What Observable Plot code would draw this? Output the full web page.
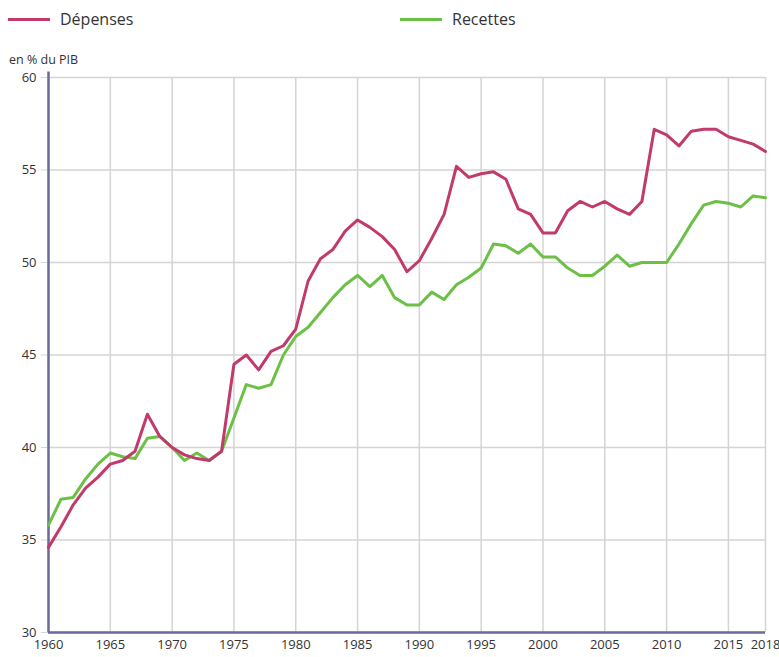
<!DOCTYPE html>
<html>
<head>
<meta charset="utf-8">
<script src="https://cdn.jsdelivr.net/npm/d3@7"></script>
<script src="https://cdn.jsdelivr.net/npm/@observablehq/plot@0.6"></script>
<style>
  body { margin: 0; background: #fff; font-family: "Open Sans", sans-serif; }
  #wrap { position: relative; width: 779px; height: 657px; }
  #chart { position: absolute; left: 0; top: 0; }
  .leg { position: absolute; top: 8px; font-size: 16px; color: #333; display: flex; align-items: center; }
  .sw { display: inline-block; width: 42px; height: 3px; margin-right: 10px; }
  #ylab { position: absolute; left: 9px; top: 51px; font-size: 12.5px; color: #333; }
</style>
</head>
<body>
<div id="wrap">
  <div id="chart"></div>
  <div class="leg" style="left:8px"><span class="sw" style="background:#c23a6c"></span>Dépenses</div>
  <div class="leg" style="left:400px"><span class="sw" style="background:#6cc045"></span>Recettes</div>
  <div id="ylab">en % du PIB</div>
</div>
<script>
const years = d3.range(1960, 2019);
const depenses = [34.6, 35.7, 36.9, 37.8, 38.4, 39.1, 39.3, 39.8, 41.8, 40.6,
  40.0, 39.6, 39.4, 39.3, 39.8, 44.5, 45.0, 44.2, 45.2, 45.5,
  46.4, 49.0, 50.2, 50.7, 51.7, 52.3, 51.9, 51.4, 50.7, 49.5,
  50.1, 51.3, 52.6, 55.2, 54.6, 54.8, 54.9, 54.5, 52.9, 52.6,
  51.6, 51.6, 52.8, 53.3, 53.0, 53.3, 52.9, 52.6, 53.3, 57.2,
  56.9, 56.3, 57.1, 57.2, 57.2, 56.8, 56.6, 56.4, 56.0];
const recettes = [35.8, 37.2, 37.3, 38.3, 39.1, 39.7, 39.5, 39.4, 40.5, 40.6,
  40.0, 39.3, 39.7, 39.3, 39.8, 41.6, 43.4, 43.2, 43.4, 45.0,
  46.0, 46.5, 47.3, 48.1, 48.8, 49.3, 48.7, 49.3, 48.1, 47.7,
  47.7, 48.4, 48.0, 48.8, 49.2, 49.7, 51.0, 50.9, 50.5, 51.0,
  50.3, 50.3, 49.7, 49.3, 49.3, 49.8, 50.4, 49.8, 50.0, 50.0,
  50.0, 51.0, 52.1, 53.1, 53.3, 53.2, 53.0, 53.6, 53.5];
const xTicks = [1960, 1965, 1970, 1975, 1980, 1985, 1990, 1995, 2000, 2005, 2010, 2015, 2018];
const yTicks = [30, 35, 40, 45, 50, 55, 60];

const dep = years.map((y, i) => ({year: y, value: depenses[i]}));
const rec = years.map((y, i) => ({year: y, value: recettes[i]}));

const chart = Plot.plot({
  width: 779,
  height: 657,
  marginLeft: 48,
  marginRight: 14,
  marginTop: 77,
  marginBottom: 25,
  style: {fontFamily: "Open Sans, sans-serif", fontSize: "13px", color: "#333", background: "#fff"},
  x: {domain: [1960, 2018], ticks: xTicks, tickFormat: d => String(d), label: null},
  y: {domain: [30, 60], ticks: yTicks, label: null},
  marks: [
    Plot.gridX(xTicks, {stroke: "#d4d4d4", strokeOpacity: 1, strokeWidth: 1.5}),
    Plot.gridY(yTicks, {stroke: "#d4d4d4", strokeOpacity: 1, strokeWidth: 1.5}),
    Plot.axisX(xTicks, {tickSize: 0, tickPadding: 7, tickFormat: d => String(d), fill: "#333"}),
    Plot.axisY(yTicks, {tickSize: 7, tickPadding: 5, stroke: "#d4d4d4", fill: "#333"}),
    Plot.ruleY([30], {stroke: "#6b6b9b", strokeWidth: 2.5}),
    Plot.ruleX([1960], {y1: 30, y2: 60.3, stroke: "#6b6b9b", strokeWidth: 2.5}),
    Plot.line(rec, {x: "year", y: "value", stroke: "#6cc045", strokeWidth: 3}),
    Plot.line(dep, {x: "year", y: "value", stroke: "#c23a6c", strokeWidth: 3})
  ]
});
document.getElementById("chart").appendChild(chart);
</script>
</body>
</html>
